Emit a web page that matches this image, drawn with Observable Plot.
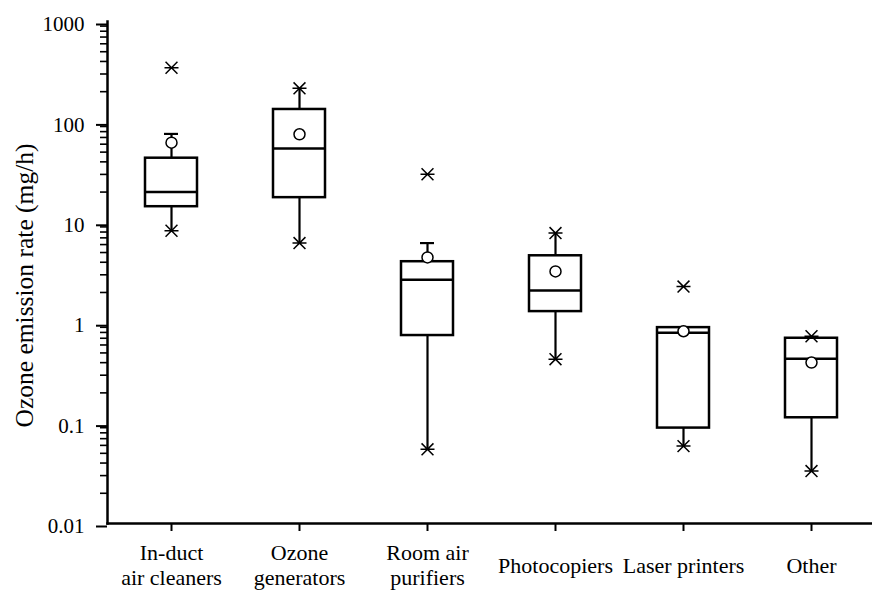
<!DOCTYPE html>
<html>
<head>
<meta charset="utf-8">
<script src="https://cdn.jsdelivr.net/npm/d3@7"></script>
<script src="https://cdn.jsdelivr.net/npm/@observablehq/plot@0.6"></script>
<style>
  html, body { margin: 0; padding: 0; background: #fff; }
  #chart svg { display: block; }
  #chart svg text { font-family: "Liberation Serif", "Times New Roman", serif; }
</style>
</head>
<body>
<div id="chart"></div>
<script>
// ---- data ----
const categories = ["In-duct\nair cleaners", "Ozone\ngenerators", "Room air\npurifiers", "Photocopiers", "Laser printers", "Other"];
const q1 =          [14.3, 17.6, 0.745, 1.29, 0.0892, 0.113];
const medians =     [20.0, 54.2, 2.68, 2.09, 0.793, 0.437];
const q3 =          [43.5, 133, 4.05, 4.64, 0.893, 0.700];
const means =       [62.1, 75.3, 4.47, 3.24, 0.822, 0.401];
const whiskerLow =  [8.24, 6.21, 0.0548, 0.433, 0.059, 0.0333];
const whiskerHigh = [75.9, 216, 6.21, 7.81, 0.893, 0.733];
// whisker ends drawn with a plain cap
const capCategories = ["In-duct\nair cleaners", "Room air\npurifiers"];
const capValues = [75.9, 6.21];
// whisker ends / extremes drawn with an asterisk
const starCategories = ["In-duct\nair cleaners", "Ozone\ngenerators", "Ozone\ngenerators", "Room air\npurifiers", "Photocopiers", "Photocopiers", "Laser printers", "Other", "Other"];
const starValues = [8.24, 216, 6.21, 0.0548, 7.81, 0.433, 0.059, 0.733, 0.0333];
// outliers (asterisks)
const outlierCategories = ["In-duct\nair cleaners", "Room air\npurifiers", "Laser printers"];
const outlierValues = [346, 30.1, 2.29];
// y-axis ticks
const yTickValues = [0.01, 0.1, 1, 10, 100, 1000];
const yTickLabels = ["0.01", "0.1", "1", "10", "100", "1000"];
const yTitle = "Ozone emission rate (mg/h)";

// ---- tables built from the arrays ----
const boxes = categories.map((c, i) => ({
  cat: c, q1: q1[i], med: medians[i], q3: q3[i], mean: means[i], lo: whiskerLow[i], hi: whiskerHigh[i]
}));
const caps = capCategories.map((c, i) => ({cat: c, v: capValues[i]}));
const stars = starCategories.map((c, i) => ({cat: c, v: starValues[i]}))
  .concat(outlierCategories.map((c, i) => ({cat: c, v: outlierValues[i]})));
const minorTicks = yTickValues.slice(0, -1).flatMap(d => [2,3,4,5,6,7,8,9].map(k => d * k));

// asterisk: an X with a horizontal bar
const starSymbol = {
  draw(ctx, size) {
    const r = Math.sqrt(size / Math.PI);
    const d = r * 0.85;
    ctx.moveTo(-r, 0); ctx.lineTo(r, 0);
    ctx.moveTo(-d, -d); ctx.lineTo(d, d);
    ctx.moveTo(-d, d); ctx.lineTo(d, -d);
  }
};

const font = "'Liberation Serif', 'Times New Roman', serif";
const inset = 38;

const chart = Plot.plot({
  width: 872,
  height: 590,
  marginLeft: 107,
  marginRight: 0,
  marginTop: 21,
  marginBottom: 67,
  style: {fontFamily: font, background: "#fff", color: "#000"},
  x: {type: "band", domain: categories, range: [107, 875], padding: 0},
  y: {type: "log", domain: [0.01, 1000]},
  marks: [
    // axes
    Plot.axisY(minorTicks, {tickSize: 7, tickFormat: null, strokeWidth: 1.6, text: null}),
    Plot.axisY(yTickValues, {
      tickSize: 11, tickPadding: 12, strokeWidth: 2,
      tickFormat: (d) => yTickLabels[yTickValues.indexOf(d)],
      fontSize: 21, fontFamily: font, dy: 3, label: null
    }),
    Plot.axisX({
      tickSize: 8, tickPadding: 33, strokeWidth: 2,
      fontSize: 22, fontFamily: font, lineHeight: 1.15, lineAnchor: "middle", label: null
    }),
    Plot.frame({anchor: "left", strokeWidth: 2.5}),
    Plot.frame({anchor: "bottom", strokeWidth: 2.5}),
    Plot.text([yTitle], {
      frameAnchor: "left", textAnchor: "middle", lineAnchor: "middle", rotate: -90,
      dx: -83, dy: 13, fontSize: 25.5, fontFamily: font
    }),
    // whiskers
    Plot.ruleX(boxes, {x: "cat", y1: "q3", y2: "hi", stroke: "#000", strokeWidth: 2.2}),
    Plot.ruleX(boxes, {x: "cat", y1: "lo", y2: "q1", stroke: "#000", strokeWidth: 2.2}),
    Plot.tickY(caps, {x: "cat", y: "v", stroke: "#000", strokeWidth: 2.2, insetLeft: 57, insetRight: 57}),
    // boxes
    Plot.barY(boxes, {x: "cat", y1: "q1", y2: "q3", fill: "#fff", stroke: "#000", strokeWidth: 2.5, insetLeft: inset, insetRight: inset}),
    Plot.tickY(boxes, {x: "cat", y: "med", stroke: "#000", strokeWidth: 2.5, insetLeft: inset, insetRight: inset}),
    // asterisks
    Plot.dot(stars, {x: "cat", y: "v", symbol: starSymbol, r: 7, stroke: "#000", strokeWidth: 1.5, fill: "none"}),
    // means
    Plot.dot(boxes, {x: "cat", y: "mean", r: 5.5, fill: "#fff", stroke: "#000", strokeWidth: 1.5})
  ]
});
document.getElementById("chart").appendChild(chart);
</script>
</body>
</html>
